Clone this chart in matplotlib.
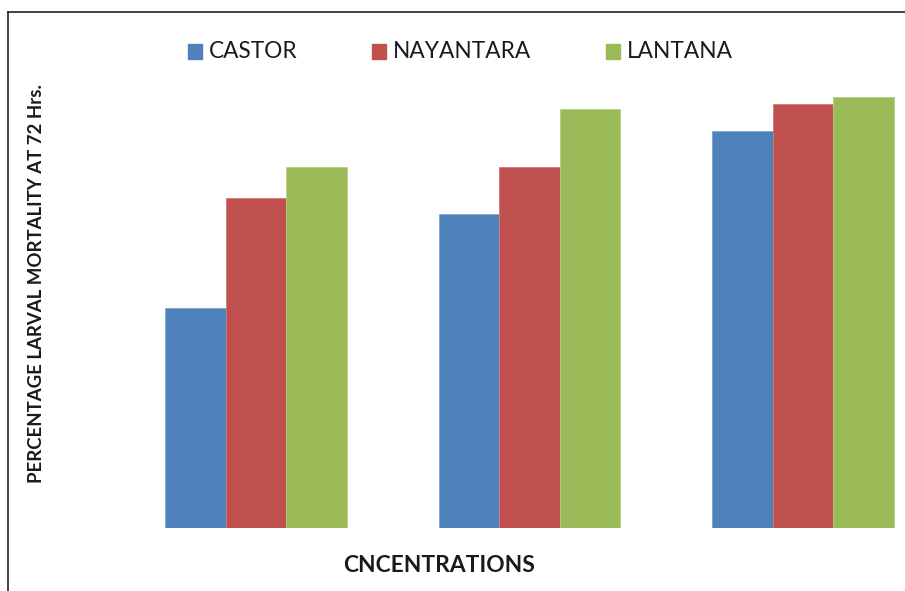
import matplotlib.pyplot as plt
import numpy as np
from matplotlib.lines import Line2D

# percentage larval mortality at 72 hrs for each extract
concentrations = ['C1', 'C2', 'C3']
castor = [51.0, 72.8, 92.0]
nayantara = [76.5, 83.7, 98.3]
lantana = [83.7, 97.2, 100.0]

series = [('CASTOR', castor, '#4F81BD', '#7FA3D0'),
          ('NAYANTARA', nayantara, '#C0504D', '#D07A78'),
          ('LANTANA', lantana, '#9BBB59', '#B5CF82')]

W, H = 905, 591
fig = plt.figure(figsize=(W / 100, H / 100), dpi=100)

# plot area: baseline at y=527.5 px, 4.31 px per percent, 273.5 px per category
px_per_unit = 4.31
ymax = 113
base = 527.5
left = 256 - 273.5 / 2
ax = fig.add_axes([left / W, (H - base) / H, 3 * 273.5 / W, ymax * px_per_unit / H])

x = np.arange(len(concentrations))
bw = 60.5 / 273.5
for i, (name, vals, col, edge) in enumerate(series):
    ax.bar(x + (i - 1) * bw, vals, width=bw, color=col, edgecolor=edge,
           linewidth=0.6, label=name)

ax.set_xlim(-0.5, 2.5)
ax.set_ylim(0, ymax)
ax.set_xticks([])
ax.set_yticks([])
for s in ax.spines.values():
    s.set_visible(False)

# legend across the top
font = 'Lato'
ly = H - 52
entries = [(188, 'CASTOR'), (372, 'NAYANTARA'), (606, 'LANTANA')]
for (mx, name), (_, _, col, _) in zip(entries, series):
    fig.patches.append(plt.Rectangle((mx / W, (ly - 7) / H), 14 / W, 15 / H,
                                     transform=fig.transFigure, color=col))
    fig.text((mx + 21) / W, ly / H + 0.5 / H, name, fontsize=16.3, family=font,
             color='#1a1a1a', va='center', ha='left')

fig.text(37 / W, (H - 284) / H, 'PERCENTAGE LARVAL MORTALITY AT 72 Hrs.',
         rotation=90, fontsize=13.4, fontweight='bold', family=font,
         color='#1a1a1a', ha='center', va='center')
fig.text(439 / W, (H - 566) / H, 'CNCENTRATIONS', fontsize=16.4,
         fontweight='bold', family=font, color='#1a1a1a', ha='center', va='center')

# outer chart border (top and left edges visible)
fig.add_artist(Line2D([8 / W, 1.0], [(H - 12) / H] * 2, color='#222222', lw=1.2,
                      transform=fig.transFigure))
fig.add_artist(Line2D([8 / W] * 2, [0, (H - 12) / H], color='#222222', lw=1.2,
                      transform=fig.transFigure))

fig.savefig('out.png', dpi=100)
